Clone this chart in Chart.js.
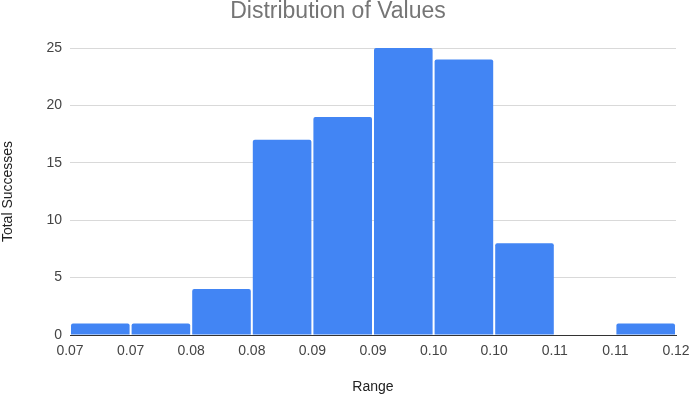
<!DOCTYPE html>
<html>
<head>
<meta charset="utf-8">
<script src="https://cdn.jsdelivr.net/npm/chart.js@4/dist/chart.umd.min.js"></script>
<style>
  html, body { margin: 0; padding: 0; background: #fff; }
  #wrap { width: 690px; height: 398px; }
</style>
</head>
<body>
<div id="wrap"><canvas id="c" width="690" height="398"></canvas></div>
<script>
// Histogram bin counts (10 bins)
const binCounts = [1, 1, 4, 17, 19, 25, 24, 8, 0, 1];
// Labels shown at the bin edges (11 edges)
const edgeLabels = ["0.07", "0.07", "0.08", "0.08", "0.09", "0.09", "0.10", "0.10", "0.11", "0.11", "0.12"];
const yTicks = [0, 5, 10, 15, 20, 25];
const chartTitle = "Distribution of Values";
const xTitle = "Range";
const yTitle = "Total Successes";

const points = binCounts.map((v, i) => ({ x: i + 0.5, y: v }));
const FONT = "'Liberation Sans', Arial, sans-serif";

new Chart(document.getElementById('c'), {
  type: 'bar',
  data: {
    datasets: [{
      data: points,
      backgroundColor: '#4285F4',
      borderWidth: 0,
      borderRadius: { topLeft: 2, topRight: 2, bottomLeft: 0, bottomRight: 0 },
      borderSkipped: 'start',
      barPercentage: 0.967,
      categoryPercentage: 1.0
    }]
  },
  options: {
    responsive: false,
    animation: false,
    layout: { padding: { left: 0, right: 14, top: 0, bottom: 0 } },
    plugins: {
      legend: { display: false },
      tooltip: { enabled: false },
      title: {
        display: true,
        text: chartTitle,
        color: '#757575',
        font: { family: FONT, size: 23, weight: 'normal', lineHeight: 1.0 },
        padding: { top: 0, bottom: 25 }
      }
    },
    scales: {
      x: {
        type: 'linear',
        min: 0,
        max: edgeLabels.length - 1,
        offset: false,
        afterFit: (s) => { s.height = 63; s.paddingRight = 0; s.paddingLeft = 0; },
        grid: { display: false, offset: false, drawTicks: false },
        border: { display: true, color: '#333333', width: 1 },
        ticks: {
          stepSize: 1,
          autoSkip: false,
          maxRotation: 0,
          padding: 8,
          color: '#444444',
          font: { family: FONT, size: 14 },
          callback: (v) => edgeLabels[v] !== undefined ? edgeLabels[v] : ''
        },
        title: {
          display: true,
          text: xTitle,
          color: '#222222',
          font: { family: FONT, size: 14 },
          padding: { top: 10, bottom: 2 }
        }
      },
      y: {
        min: yTicks[0],
        max: yTicks[yTicks.length - 1],
        afterBuildTicks: (s) => { s.ticks = yTicks.map(v => ({ value: v })); },
        afterFit: (s) => { s.width = 70; },
        grid: {
          drawTicks: false,
          color: (ctx) => ctx.tick && ctx.tick.value === 0 ? '#333333' : '#d9d9d9'
        },
        border: { display: false },
        ticks: {
          padding: 8,
          color: '#444444',
          font: { family: FONT, size: 14 }
        },
        title: {
          display: true,
          text: yTitle,
          color: '#222222',
          font: { family: FONT, size: 14 },
          padding: { top: 0, bottom: 0 }
        }
      }
    }
  }
});
</script>
</body>
</html>
